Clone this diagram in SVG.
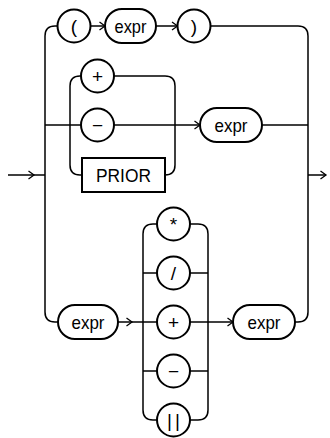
<svg xmlns="http://www.w3.org/2000/svg" width="330" height="438" viewBox="0 0 330 438">
<defs>
<marker id="arr" markerWidth="10" markerHeight="10" refX="8" refY="5" orient="auto" markerUnits="userSpaceOnUse"><path d="M2.5,1 L8,5 L2.5,9" fill="none" stroke="#000" stroke-width="1.3"/></marker>
</defs>
<style>
.c{fill:none;stroke:#000;stroke-width:1.5}
.a{fill:none;stroke:#000;stroke-width:1.5;marker-end:url(#arr)}
.n{fill:#fff;stroke:#000;stroke-width:2}
.t{font-family:"Liberation Sans",Arial,sans-serif;font-size:19px;text-anchor:middle;fill:#000}
</style>
<rect width="330" height="438" fill="#fff"/>
<g id="connectors">
<path class="a" d="M8,175 H34"/>
<path class="c" d="M34,175 H45"/>
<path class="c" d="M57.5,26 H55 Q45,26 45,36 V312 Q45,322 55,322 H58"/>
<path class="a" d="M90.5,26 H105"/>
<path class="a" d="M156,26 H177.5"/>
<path class="c" d="M210.5,26 H298 Q308,26 308,36 V312 Q308,322 298,322 H295"/>
<path class="a" d="M308,175 H326"/>
<path class="c" d="M45,125 H81"/>
<path class="a" d="M114,125 H200"/>
<path class="c" d="M262,125 H308"/>
<path class="c" d="M81,76 H80 Q70,76 70,86 V165 Q70,175 80,175 H82"/>
<path class="c" d="M114,76 H165 Q175,76 175,86 V165 Q175,175 165,175"/>
<path class="a" d="M118,322 H132"/>
<path class="c" d="M132,322 H157"/>
<path class="c" d="M157,224 H153 Q143,224 143,234 V410 Q143,420 153,420 H157"/>
<path class="c" d="M143,273 H157"/>
<path class="c" d="M143,371 H157"/>
<path class="c" d="M190,224 H198 Q208,224 208,234 V410 Q208,420 198,420 H190"/>
<path class="c" d="M190,273 H208"/>
<path class="c" d="M190,371 H208"/>
<path class="a" d="M190,322 H233"/>
</g>
<g id="lparen"><circle class="n" cx="74" cy="26" r="16.5"/><text class="t" x="74" y="33">(</text></g>
<g id="expr1"><rect class="n" x="105" y="9" width="51" height="34" rx="17"/><text class="t" x="130.5" y="33" textLength="32" lengthAdjust="spacingAndGlyphs">expr</text></g>
<g id="rparen"><circle class="n" cx="194" cy="26" r="16.5"/><text class="t" x="194" y="33">)</text></g>
<g id="plus1"><circle class="n" cx="97.5" cy="76" r="16.5"/><text class="t" x="97.5" y="82.5">+</text></g>
<g id="minus1"><circle class="n" cx="97.5" cy="125" r="16.5"/><text class="t" x="97.5" y="131.5">−</text></g>
<g id="prior"><rect class="n" x="82" y="158" width="83" height="34"/><text class="t" x="123.5" y="182" textLength="55" lengthAdjust="spacingAndGlyphs">PRIOR</text></g>
<g id="expr2"><rect class="n" x="200" y="108" width="62" height="34" rx="17"/><text class="t" x="231" y="132" textLength="33" lengthAdjust="spacingAndGlyphs">expr</text></g>
<g id="expr3"><rect class="n" x="58" y="305" width="60" height="34" rx="17"/><text class="t" x="88" y="329" textLength="33" lengthAdjust="spacingAndGlyphs">expr</text></g>
<g id="star"><circle class="n" cx="173.5" cy="224" r="16.5"/><text class="t" x="173.5" y="231" font-size="16">*</text></g>
<g id="slash"><circle class="n" cx="173.5" cy="273" r="16.5"/><text class="t" x="173.5" y="280">/</text></g>
<g id="plus2"><circle class="n" cx="173.5" cy="322" r="16.5"/><text class="t" x="173.5" y="328.5">+</text></g>
<g id="minus2"><circle class="n" cx="173.5" cy="371" r="16.5"/><text class="t" x="173.5" y="377.5">−</text></g>
<g id="concat"><circle class="n" cx="173.5" cy="420" r="16.5"/><text class="t" x="175" y="427" letter-spacing="3">||</text></g>
<g id="expr4"><rect class="n" x="233" y="305" width="62" height="34" rx="17"/><text class="t" x="264" y="329" textLength="33" lengthAdjust="spacingAndGlyphs">expr</text></g>
</svg>
